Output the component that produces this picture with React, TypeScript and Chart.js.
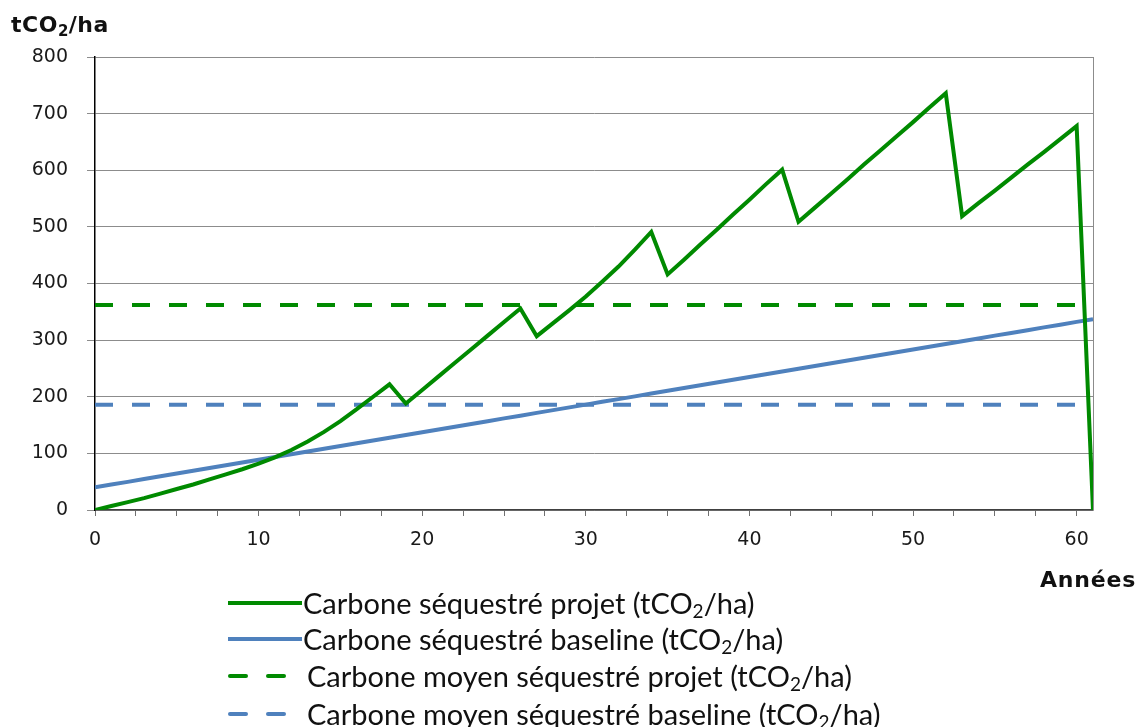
import React, { useEffect, useRef } from "react";
import { Chart, registerables } from "chart.js";

Chart.register(...registerables);

// Years (x axis)
const years = [
  0, 1, 2, 3, 4, 5, 6, 7, 8, 9,
  10, 11, 12, 13, 14, 15, 16, 17, 18, 19,
  20, 21, 22, 23, 24, 25, 26, 27, 28, 29,
  30, 31, 32, 33, 34, 35, 36, 37, 38, 39,
  40, 41, 42, 43, 44, 45, 46, 47, 48, 49,
  50, 51, 52, 53, 54, 55, 56, 57, 58, 59,
  60, 61,
];

// Carbone séquestré projet (tCO2/ha)
const projet = [
  0, 7, 14, 21, 29, 37, 45, 54, 63, 72,
  82, 93, 106, 121, 138, 157, 178, 200, 222, 188,
  212, 236, 260, 284, 308, 332, 356, 307, 330, 353,
  377, 403, 430, 460, 491, 416, 442, 469, 495, 522,
  548, 575, 601, 509, 534, 559, 584, 610, 635, 660,
  685, 711, 736, 519, 542, 564, 587, 610, 632, 655,
  678, 0,
];

// Carbone séquestré baseline (tCO2/ha)
const baseline = [
  40.0, 44.9, 49.7, 54.6, 59.5, 64.4, 69.2, 74.1, 79.0, 83.8,
  88.7, 93.6, 98.4, 103.3, 108.2, 113.1, 117.9, 122.8, 127.7, 132.5,
  137.4, 142.3, 147.1, 152.0, 156.9, 161.8, 166.6, 171.5, 176.4, 181.2,
  186.1, 191.0, 195.8, 200.7, 205.6, 210.5, 215.3, 220.2, 225.1, 229.9,
  234.8, 239.7, 244.5, 249.4, 254.3, 259.2, 264.0, 268.9, 273.8, 278.6,
  283.5, 288.4, 293.2, 298.1, 303.0, 307.9, 312.7, 317.6, 322.5, 327.3,
  332.2, 337.1,
];

// Averages (horizontal dashed lines), from first to last year
const avgYears = [0, 61];
const moyenProjet = [362, 362];
const moyenBaseline = [186, 186];

const yTicks = [0, 100, 200, 300, 400, 500, 600, 700, 800];
const xTicks = [
  0, 2.5, 5, 7.5, 10, 12.5, 15, 17.5, 20, 22.5, 25, 27.5, 30,
  32.5, 35, 37.5, 40, 42.5, 45, 47.5, 50, 52.5, 55, 57.5, 60,
];
const xLabels = [0, 10, 20, 30, 40, 50, 60];

const GREEN = "#008a00";
const BLUE = "#4f81bd";

const legendItems = [
  { label: "Carbone séquestré projet", color: GREEN, dashed: false },
  { label: "Carbone séquestré baseline", color: BLUE, dashed: false },
  { label: "Carbone moyen séquestré projet", color: GREEN, dashed: true },
  { label: "Carbone moyen séquestré baseline", color: BLUE, dashed: true },
];

const framePlugin = {
  id: "frame",
  beforeDatasetsDraw(chart: any) {
    const { ctx, chartArea } = chart;
    ctx.save();
    ctx.strokeStyle = "#8c8c8c";
    ctx.lineWidth = 1;
    ctx.beginPath();
    ctx.moveTo(Math.round(chartArea.right) + 0.5, chartArea.top);
    ctx.lineTo(Math.round(chartArea.right) + 0.5, chartArea.bottom);
    ctx.stroke();
    ctx.restore();
  },
};

export default function App() {
  const ref = useRef<HTMLCanvasElement | null>(null);

  useEffect(() => {
    if (!ref.current) return;
    const chart = new Chart(ref.current, {
      type: "line",
      data: {
        datasets: [
          {
            label: legendItems[0].label,
            data: years.map((x, i) => ({ x, y: projet[i] })),
            borderColor: GREEN,
            borderWidth: 4,
            pointRadius: 0,
            tension: 0,
            borderJoinStyle: "miter",
          },
          {
            label: legendItems[1].label,
            data: years.map((x, i) => ({ x, y: baseline[i] })),
            borderColor: BLUE,
            borderWidth: 4,
            pointRadius: 0,
            tension: 0,
          },
          {
            label: legendItems[2].label,
            data: avgYears.map((x, i) => ({ x, y: moyenProjet[i] })),
            borderColor: GREEN,
            borderWidth: 4,
            borderDash: [18, 19],
            pointRadius: 0,
          },
          {
            label: legendItems[3].label,
            data: avgYears.map((x, i) => ({ x, y: moyenBaseline[i] })),
            borderColor: BLUE,
            borderWidth: 4,
            borderDash: [18, 19],
            pointRadius: 0,
          },
        ],
      },
      options: {
        responsive: false,
        animation: false,
        layout: { padding: { top: 57, right: 46, left: 0, bottom: 0 } },
        plugins: {
          legend: { display: false },
          tooltip: { enabled: false },
        },
        scales: {
          x: {
            type: "linear",
            min: 0,
            max: 61,
            afterBuildTicks: (s: any) => {
              s.ticks = xTicks.map((v) => ({ value: v }));
            },
            afterFit: (s: any) => {
              s.height = 217;
            },
            ticks: {
              autoSkip: false,
              maxRotation: 0,
              padding: 13,
              color: "#1a1a1a",
              font: { family: "DejaVu Sans", size: 19 },
              callback: (v: any) => (xLabels.includes(Number(v)) ? String(v) : ""),
            },
            grid: {
              drawOnChartArea: false,
              drawTicks: true,
              tickLength: 6,
              color: "#707070",
            },
            border: { color: "#404040", width: 1.5 },
          },
          y: {
            min: 0,
            max: 800,
            afterBuildTicks: (s: any) => {
              s.ticks = yTicks.map((v) => ({ value: v }));
            },
            afterFit: (s: any) => {
              s.width = 95;
            },
            ticks: {
              padding: 19,
              color: "#1a1a1a",
              font: { family: "DejaVu Sans", size: 19 },
            },
            grid: { color: "#8c8c8c", lineWidth: 1, tickLength: 8 },
            border: { color: "#000000", width: 1.5 },
          },
        },
      },
      plugins: [framePlugin],
    } as any);
    return () => chart.destroy();
  }, []);

  return (
    <div style={{ position: "absolute", left: 0, top: 0, width: 1139, height: 727, background: "#fff" }}>
      <canvas ref={ref} width={1139} height={727} style={{ position: "absolute", left: 0, top: 0 }} />
      <div
        style={{
          position: "absolute",
          left: 11,
          top: 12,
          fontFamily: "DejaVu Sans",
          fontWeight: "bold",
          fontSize: 22,
          letterSpacing: 0.5,
          lineHeight: "26px",
          color: "#111",
          whiteSpace: "nowrap",
        }}
      >
        tCO<sub style={{ fontSize: 15, verticalAlign: -4, lineHeight: 0 }}>2</sub>/ha
      </div>
      <div
        style={{
          position: "absolute",
          left: 1040,
          top: 567,
          fontFamily: "DejaVu Sans",
          fontWeight: "bold",
          fontSize: 22,
          letterSpacing: 0.8,
          color: "#111",
          whiteSpace: "nowrap",
        }}
      >
        Années
      </div>
      {legendItems.map((it, i) => (
        <div
          key={i}
          style={{
            position: "absolute",
            left: 228,
            top: [586, 622, 659, 697][i],
            height: 34,
            display: "flex",
            alignItems: "center",
            whiteSpace: "nowrap",
            fontFamily: "Lato",
            fontSize: 29,
            color: "#111",
          }}
        >
          {it.dashed ? (
            <div style={{ width: 76, display: "flex", gap: 18, marginRight: 3 }}>
              <div style={{ width: 20, height: 4, background: it.color, borderRadius: 2 }} />
              <div style={{ width: 20, height: 4, background: it.color, borderRadius: 2 }} />
            </div>
          ) : (
            <div style={{ width: 74, height: 4, background: it.color, marginRight: 1 }} />
          )}
          <span style={{ lineHeight: "34px" }}>
            {it.label} (tCO<sub style={{ fontSize: 19, verticalAlign: -4, lineHeight: 0 }}>2</sub>/ha)
          </span>
        </div>
      ))}
    </div>
  );
}
